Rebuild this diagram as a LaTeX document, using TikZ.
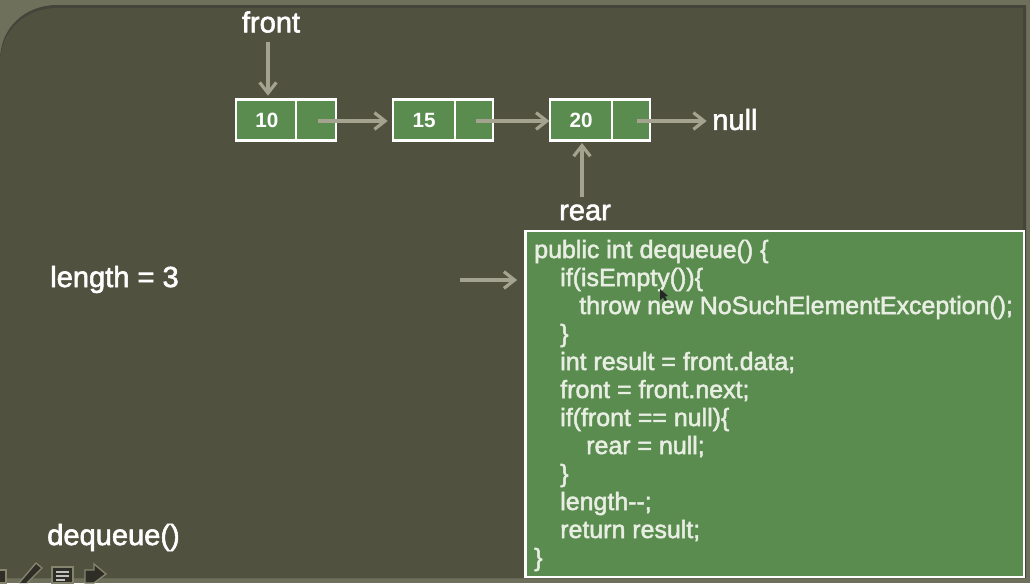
\documentclass[tikz,border=0pt]{standalone}
\usepackage{fontspec}
\setmainfont{Liberation Sans}
\newfontfamily\semibold[FakeBold=2]{Liberation Sans}
\usetikzlibrary{arrows.meta}
\definecolor{outerbg}{HTML}{6E705C}
\definecolor{innerbgb}{HTML}{515140}
\definecolor{edgebg}{HTML}{44443A}
\definecolor{cellgreen}{HTML}{5A8C50}
\definecolor{arrowgrey}{HTML}{A3A38F}
\definecolor{codetext}{HTML}{E8EEE2}
\definecolor{icondark}{HTML}{2E2E26}
\definecolor{iconline}{HTML}{85856F}
\tikzset{
  x=0.75pt,y=-0.75pt,
  cell/.style={draw=white,line width=1.9pt,fill=cellgreen,minimum height=30.5pt,inner sep=0pt,outer sep=0pt,text=white,font=\fontsize{15.5}{15.5}\selectfont\bfseries},
  valcell/.style={cell,minimum width=45pt},
  ptrcell/.style={cell,minimum width=30pt},
  lab/.style={text=white,inner sep=0pt,font=\fontsize{21.8}{21.8}\selectfont\semibold},
  codeline/.style={anchor=base west,text=codetext,inner sep=0pt,font=\fontsize{18.7}{18.7}\selectfont\semibold},
  conn/.style={draw=arrowgrey,line width=2.4pt,-{Straight Barb[length=8pt,width=12.5pt,line width=2.4pt]}},
  icon/.style={draw=iconline,fill=icondark,line width=1pt}
}
\begin{document}
\begin{tikzpicture}
\useasboundingbox (0,0) rectangle (1030,583);
\fill[outerbg] (0,0) rectangle (1030,583);
\fill[edgebg] (0,578) -- (0,60) .. controls (0,28) and (25,5) .. (57,5) -- (1026,5) -- (1026,578) -- cycle;
\fill[innerbgb] (0,578) -- (0,63) .. controls (0,31) and (25,8) .. (57,8) -- (1023,8) -- (1023,578) -- cycle;
% list nodes
\node[valcell] (a1) at (266,120) {\kern1.2pt 10};
\node[ptrcell] (a2) at (316,120) {};
\node[valcell,minimum width=46.5pt] (b1) at (424,120) {15};
\node[ptrcell,minimum width=28.5pt] (b2) at (474,120) {};
\node[valcell,minimum width=46.5pt] (c1) at (581,120) {20};
\node[ptrcell,minimum width=28.5pt] (c2) at (631,120) {};
% labels
\node[lab] (front) at (271,22) {front};
\node[lab] (rear) at (585,212.5) {rear};
\node[lab,anchor=west] (null) at (712,119.5) {null};
\node[lab,anchor=west] (len) at (50,279.5) {length = 3};
\node[lab,anchor=west] (deq) at (47,537.5) {dequeue()};
% code box
\node[draw=white,line width=2pt,fill=cellgreen,minimum width=374pt,minimum height=259.5pt,inner sep=0pt,outer sep=0pt] (code) at (774.5,404) {};
\node[codeline] (l1) at (534,258) {public int dequeue() \{};
\node[codeline] (l2) at (560,286) {if(isEmpty())\{};
\node[codeline] (l3) at (579,314) {throw new NoSuchElementException();};
\node[codeline] (l4) at (560,342) {\}};
\node[codeline] (l5) at (560,370) {int result = front.data;};
\node[codeline] (l6) at (560,398) {front = front.next;};
\node[codeline] (l7) at (560,426) {if(front == null)\{};
\node[codeline] (l8) at (586,454) {rear = null;};
\node[codeline] (l9) at (560,482) {\}};
\node[codeline] (l10) at (560,510) {length-{}-;};
\node[codeline] (l11) at (560,538) {return result;};
\node[codeline] (l12) at (534,566) {\}};
% connectors
\coordinate (a2p) at (318,121);
\coordinate (b2p) at (476,121);
\coordinate (c2p) at (637,121);
\coordinate (ptrfree) at (460,280);
\coordinate (fs) at (268,42);
\coordinate (rs) at (582,197);
\draw[conn,shorten >=3pt] (fs) -- (fs |- a1.north);
\draw[conn,shorten >=4pt] (a2p) -- (a2p -| b1.west);
\draw[conn,shorten >=0.5pt] (b2p) -- (b2p -| c1.west);
\draw[conn,shorten >=4pt] (c2p) -- (c2p -| null.west);
\draw[conn,shorten >=2pt] (rs) -- (rs |- c1.south);
\draw[conn,shorten >=6pt] (ptrfree) -- (ptrfree -| code.west);
% cursor
\fill[black!85] (660,289) -- (660,300) -- (663,297.5) -- (665,301) -- (667,300) -- (665,296.5) -- (668,296) -- cycle;
% toolbar icons
\fill[icon] (-3,570) rectangle (6,583);
\draw[icon,fill=icondark] (19,583) -- (36,563) -- (42,568) -- (27,583);
\draw[icon] (52,567) rectangle (73,583);
\draw[white!70!icondark,line width=1pt] (56,572) -- (69,572) (56,576) -- (69,576) (56,580) -- (65,580);
\fill[icon] (85,570) -- (94,570) -- (94,564) -- (106,574) -- (94,583) -- (85,583) -- cycle;
\end{tikzpicture}
\end{document}
